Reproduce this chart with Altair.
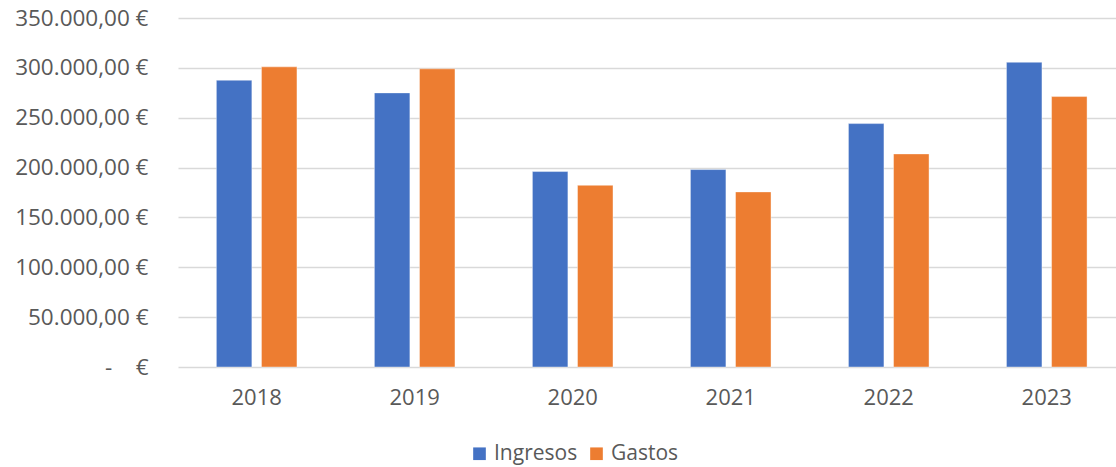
import altair as alt
import pandas as pd

years = ["2018", "2019", "2020", "2021", "2022", "2023"]
ingresos = [287600, 274900, 196000, 198000, 244100, 305600]
gastos = [301000, 299000, 182200, 175600, 213700, 271200]
series = ["Ingresos", "Gastos"]
colors = ["#4472C4", "#ED7D31"]

rows = []
for i, y in enumerate(years):
    rows.append({"year": y, "serie": "Ingresos", "value": ingresos[i]})
    rows.append({"year": y, "serie": "Gastos", "value": gastos[i]})
df = pd.DataFrame(rows)

FONT = "Open Sans"
GRAY = "#595959"

chart = alt.Chart(df).mark_bar(stroke="#ffffff", strokeOpacity=0.5, strokeWidth=0.8).encode(
    x=alt.X("year:N", sort=years, title=None,
            scale=alt.Scale(paddingInner=0.49, paddingOuter=0.213, align=0.57),
            axis=alt.Axis(labelAngle=0, domain=False, ticks=False, labelPadding=20,
                          labelFont=FONT, labelFontSize=22, labelColor=GRAY)),
    xOffset=alt.XOffset("serie:N", sort=series,
                        scale=alt.Scale(paddingInner=0.213, paddingOuter=0)),
    y=alt.Y("value:Q", title=None,
            scale=alt.Scale(domain=[0, 350000], nice=False),
            axis=alt.Axis(values=[0, 50000, 100000, 150000, 200000, 250000, 300000, 350000],
                          labelExpr="datum.value == 0 ? '-\u00a0\u00a0\u00a0\u00a0€' : format(datum.value/1000, 'd') + '.000,00 €'",
                          domain=False, ticks=False, labelPadding=30,
                          labelFont=FONT, labelFontSize=22.5, labelColor=GRAY,
                          gridColor="#D9D9D9", gridWidth=1.5)),
    color=alt.Color("serie:N", sort=series,
                    scale=alt.Scale(domain=series, range=colors),
                    legend=alt.Legend(title=None, orient="none", legendX=291, legendY=425,
                                      direction="horizontal", symbolType="square",
                                      symbolSize=160, symbolStrokeWidth=0,
                                      labelFont=FONT, labelFontSize=21, labelColor=GRAY,
                                      columnPadding=8, labelOffset=4)),
).properties(
    width=938, height=349,
    autosize=alt.AutoSizeParams(type="none"),
    padding={"left": 178, "top": 18, "right": 0, "bottom": 100},
    background="#ffffff",
).configure_view(stroke=None)

chart.save("out.html", embed_options={"renderer": "svg", "actions": False})
